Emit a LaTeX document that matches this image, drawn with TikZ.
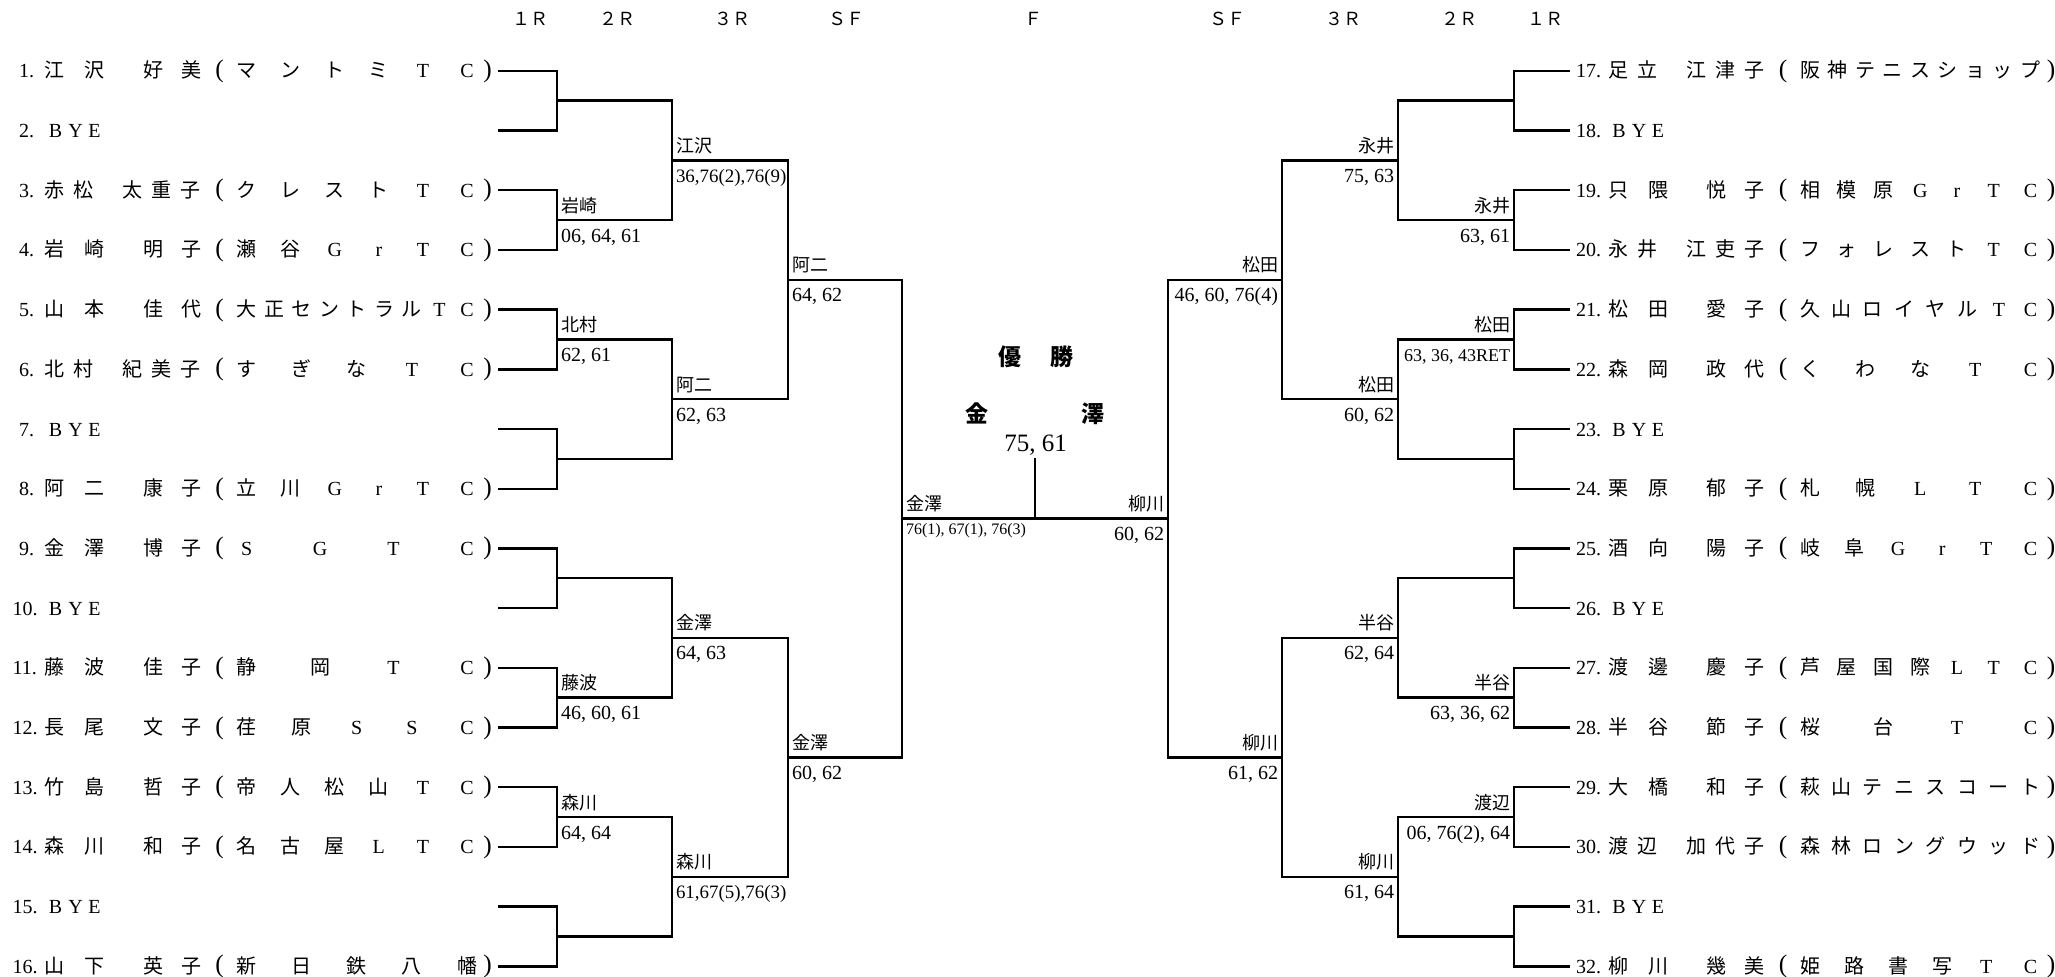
\documentclass[tikz,border=0pt]{standalone}
\usepackage{fontspec}
\setmainfont{Liberation Serif}
\newfontfamily\jp{Noto Sans CJK JP}
\usetikzlibrary{calc}
\newcommand\fs[1]{\fontsize{#1}{#1}\selectfont}
\newcommand\lat{\rmfamily}
\newcommand\RY[1]{70.8+(#1-1)*59.7}
\newcommand\Num[2]{%
  \ifnum#2<10 \def\nx{25.6}\else\def\nx{32}\fi
  \node[lt,anchor=base west] (num#2) at ({\X-\nx},{\RY{#1}+7}) {#2.};}
\newcommand\Club[4]{%
  \node[lt,font=\rmfamily\fs{19}] (po#2) at ({\X+175},{\RY{#1}+6.5}) {(};
  \node[lt,font=\rmfamily\fs{19}] (pc#2) at ({\X+443},{\RY{#1}+6.5}) {)};
  \foreach \cc [count=\kk] in {#4} {\node[ch] (k#2-\kk) at ({\X+202+(\kk-1)*220.4/(#3-1)},{\RY{#1}+7}) {\cc};}}
% row, num, a,b,c,d, n, club
\newcommand\RowTT[8]{%
  \Num{#1}{#2}%
  \node[ch] (n#2a) at ({\X+10},{\RY{#1}+7}) {#3};
  \node[ch] (n#2b) at ({\X+50.2},{\RY{#1}+7}) {#4};
  \node[ch] (n#2c) at ({\X+108.4},{\RY{#1}+7}) {#5};
  \node[ch] (n#2d) at ({\X+146.4},{\RY{#1}+7}) {#6};
  \Club{#1}{#2}{#7}{#8}}
% row, num, a,b,c,d,e, n, club
\newcommand\RowTH[9]{%
  \Num{#1}{#2}%
  \node[ch] (n#2a) at ({\X+10},{\RY{#1}+7}) {#3};
  \node[ch] (n#2b) at ({\X+39.1},{\RY{#1}+7}) {#4};
  \node[ch] (n#2c) at ({\X+88.2},{\RY{#1}+7}) {#5};
  \node[ch] (n#2d) at ({\X+117.2},{\RY{#1}+7}) {#6};
  \node[ch] (n#2e) at ({\X+146.2},{\RY{#1}+7}) {#7};
  \Club{#1}{#2}{#8}{#9}}
\newcommand\Bye[2]{%
  \Num{#1}{#2}%
  \node[lt] (by#2) at ({\X+11},{\RY{#1}+7}) {B};
  \node[lt] (yy#2) at ({\X+31},{\RY{#1}+7}) {Y};
  \node[lt] (ey#2) at ({\X+50},{\RY{#1}+7}) {E};}
% coord, id, name, score, score size
\newcommand\WL[5]{%
  \node[wn,anchor=base west] (w#2) at ($(#1)+(4,-8)$) {#3};
  \node[sc,anchor=base west,font=\rmfamily\fs{#5}] (s#2) at ($(#1)+(4,22)$) {#4};}
\newcommand\WR[5]{%
  \node[wn,anchor=base east] (w#2) at ($(#1)+(-4,-8)$) {#3};
  \node[sc,anchor=base east,font=\rmfamily\fs{#5}] (s#2) at ($(#1)+(-4,22)$) {#4};}
\begin{document}
\begin{tikzpicture}[x=0.75pt,y=-0.75pt,
  ln/.style={line width=1.8pt},
  lnthin/.style={line width=1.1pt},
  tx/.style={inner sep=0pt,outer sep=0pt},
  ch/.style={tx,anchor=base,font=\jp\fs{15}},
  lt/.style={tx,anchor=base,font=\rmfamily\fs{15}},
  hd/.style={tx,anchor=base,font=\jp\fs{13.5}},
  wn/.style={tx,font=\jp\fs{13.5}},
  sc/.style={tx,font=\rmfamily\fs{15}},
  ttl/.style={tx,anchor=base,font=\jp\bfseries\fs{17.25}}]
\fill[white] (0,0) rectangle (2055,976);
\useasboundingbox (0,0) rectangle (2055,976);
% header
\foreach \hx/\hs [count=\hk] in {530/１Ｒ,617/２Ｒ,732/３Ｒ,846/ＳＦ,1033/Ｆ,1227/ＳＦ,1343/３Ｒ,1459/２Ｒ,1545/１Ｒ}
  {\node[hd] (h\hk) at (\hx,25.5) {\hs};}
% left players
\def\X{44.6}
\RowTT{1}{1}{江}{沢}{好}{美}{6}{マ,ン,ト,ミ,{\lat T},{\lat C}}
\Bye{2}{2}
\RowTH{3}{3}{赤}{松}{太}{重}{子}{6}{ク,レ,ス,ト,{\lat T},{\lat C}}
\RowTT{4}{4}{岩}{崎}{明}{子}{6}{瀬,谷,{\lat G},{\lat r},{\lat T},{\lat C}}
\RowTT{5}{5}{山}{本}{佳}{代}{9}{大,正,セ,ン,ト,ラ,ル,{\lat T},{\lat C}}
\RowTH{6}{6}{北}{村}{紀}{美}{子}{5}{す,ぎ,な,{\lat T},{\lat C}}
\Bye{7}{7}
\RowTT{8}{8}{阿}{二}{康}{子}{6}{立,川,{\lat G},{\lat r},{\lat T},{\lat C}}
\RowTT{9}{9}{金}{澤}{博}{子}{4}{{\lat S},{\lat G},{\lat T},{\lat C}}
\Bye{10}{10}
\RowTT{11}{11}{藤}{波}{佳}{子}{4}{静,岡,{\lat T},{\lat C}}
\RowTT{12}{12}{長}{尾}{文}{子}{5}{荏,原,{\lat S},{\lat S},{\lat C}}
\RowTT{13}{13}{竹}{島}{哲}{子}{6}{帝,人,松,山,{\lat T},{\lat C}}
\RowTT{14}{14}{森}{川}{和}{子}{6}{名,古,屋,{\lat L},{\lat T},{\lat C}}
\Bye{15}{15}
\RowTT{16}{16}{山}{下}{英}{子}{5}{新,日,鉄,八,幡}
% right players
\def\X{1608}
\RowTH{1}{17}{足}{立}{江}{津}{子}{9}{阪,神,テ,ニ,ス,シ,ョ,ッ,プ}
\Bye{2}{18}
\RowTT{3}{19}{只}{隈}{悦}{子}{7}{相,模,原,{\lat G},{\lat r},{\lat T},{\lat C}}
\RowTH{4}{20}{永}{井}{江}{吏}{子}{7}{フ,ォ,レ,ス,ト,{\lat T},{\lat C}}
\RowTT{5}{21}{松}{田}{愛}{子}{8}{久,山,ロ,イ,ヤ,ル,{\lat T},{\lat C}}
\RowTT{6}{22}{森}{岡}{政}{代}{5}{く,わ,な,{\lat T},{\lat C}}
\Bye{7}{23}
\RowTT{8}{24}{栗}{原}{郁}{子}{5}{札,幌,{\lat L},{\lat T},{\lat C}}
\RowTT{9}{25}{酒}{向}{陽}{子}{6}{岐,阜,{\lat G},{\lat r},{\lat T},{\lat C}}
\Bye{10}{26}
\RowTT{11}{27}{渡}{邊}{慶}{子}{7}{芦,屋,国,際,{\lat L},{\lat T},{\lat C}}
\RowTT{12}{28}{半}{谷}{節}{子}{4}{桜,台,{\lat T},{\lat C}}
\RowTT{13}{29}{大}{橋}{和}{子}{8}{萩,山,テ,ニ,ス,コ,ー,ト}
\RowTH{14}{30}{渡}{辺}{加}{代}{子}{8}{森,林,ロ,ン,グ,ウ,ッ,ド}
\Bye{15}{31}
\RowTT{16}{32}{柳}{川}{幾}{美}{6}{姫,路,書,写,{\lat T},{\lat C}}
% bracket coordinates
\foreach \i in {1,...,16} {
  \pgfmathtruncatemacro\ii{\i+16}
  \coordinate (e\i) at (498,{\RY{\i}});
  \coordinate (e\ii) at (1570,{\RY{\i}});}
\foreach \j in {1,...,8} {
  \pgfmathtruncatemacro\jj{\j+8}
  \coordinate (a\j) at (557,{70.8+(2*\j-1.5)*59.7});
  \coordinate (a\jj) at (1514,{70.8+(2*\j-1.5)*59.7});}
\foreach \j in {1,...,4} {
  \pgfmathtruncatemacro\jj{\j+4}
  \coordinate (b\j) at (672,{70.8+(4*\j-2.5)*59.7});
  \coordinate (b\jj) at (1398,{70.8+(4*\j-2.5)*59.7});}
\foreach \j in {1,2} {
  \pgfmathtruncatemacro\jj{\j+2}
  \coordinate (c\j) at (788,{70.8+(8*\j-4.5)*59.7});
  \coordinate (c\jj) at (1282,{70.8+(8*\j-4.5)*59.7});}
\coordinate (dL) at (902,518.55);
\coordinate (dR) at (1168,518.55);
\coordinate (fm) at (1035,518.55);
\coordinate (ftop) at (1035,458);
% bracket lines
\foreach \i in {1,...,32} {\pgfmathtruncatemacro\j{(\i+1)/2}\draw[ln] (e\i) -| (a\j);}
\foreach \i in {1,...,16} {\pgfmathtruncatemacro\j{(\i+1)/2}\draw[ln] (a\i) -| (b\j);}
\foreach \i in {1,...,8} {\pgfmathtruncatemacro\j{(\i+1)/2}\draw[ln] (b\i) -| (c\j);}
\draw[ln] (c1) -| (dL); \draw[ln] (c2) -| (dL);
\draw[ln] (c3) -| (dR); \draw[ln] (c4) -| (dR);
\draw[ln] (dL) -- (dR);
\draw[lnthin] (fm) -- (ftop);
% results left
\WL{a2}{1}{岩崎}{06, 64, 61}{15}
\WL{a3}{2}{北村}{62, 61}{15}
\WL{a6}{3}{藤波}{46, 60, 61}{15}
\WL{a7}{4}{森川}{64, 64}{15}
\WL{b1}{5}{江沢}{36,76(2),76(9)}{14.2}
\WL{b2}{6}{阿二}{62, 63}{15}
\WL{b3}{7}{金澤}{64, 63}{15}
\WL{b4}{8}{森川}{61,67(5),76(3)}{14.2}
\WL{c1}{9}{阿二}{64, 62}{15}
\WL{c2}{10}{金澤}{60, 62}{15}
\node[wn,anchor=base west] (w11) at ($(dL)+(4,-8)$) {金澤};
\node[sc,anchor=base west,font=\rmfamily\fs{12}] (s11) at ($(dL)+(4,16)$) {76(1), 67(1), 76(3)};
% results right
\WR{a10}{12}{永井}{63, 61}{15}
\WR{a11}{13}{松田}{63, 36, 43RET}{13.5}
\WR{a14}{14}{半谷}{63, 36, 62}{15}
\WR{a15}{15}{渡辺}{06, 76(2), 64}{15}
\WR{b5}{16}{永井}{75, 63}{15}
\WR{b6}{17}{松田}{60, 62}{15}
\WR{b7}{18}{半谷}{62, 64}{15}
\WR{b8}{19}{柳川}{61, 64}{15}
\WR{c3}{20}{松田}{46, 60, 76(4)}{15}
\WR{c4}{21}{柳川}{61, 62}{15}
\WR{dR}{22}{柳川}{60, 62}{15}
% champion
\node[ttl] (yu) at (1010,365) {優};
\node[ttl] (sho) at (1062,365) {勝};
\node[ttl] (kin) at (977,422) {金};
\node[ttl] (taku) at (1093,422) {澤};
\node[tx,anchor=base,font=\rmfamily\fs{18.75}] (fsc) at (1035.7,451.7) {75, 61};
\end{tikzpicture}
\end{document}
